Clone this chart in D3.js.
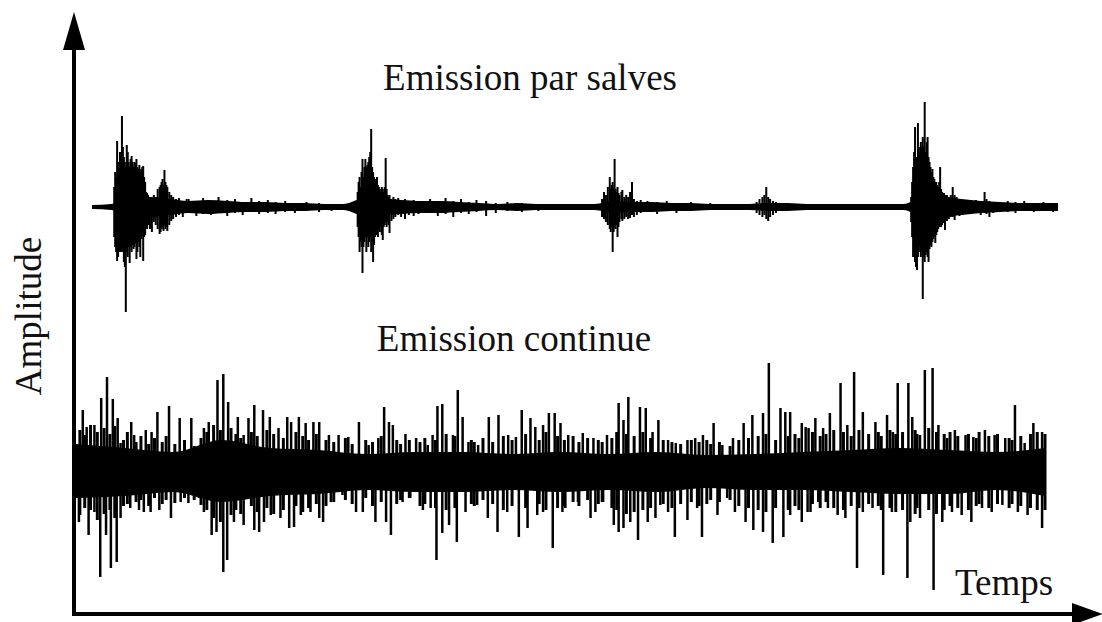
<!DOCTYPE html>
<html>
<head>
<meta charset="utf-8">
<script src="https://cdn.jsdelivr.net/npm/d3@7"></script>
<style>
  body { margin: 0; background: #fff; }
  svg { display: block; }
  text { font-family: "Liberation Serif", "Times New Roman", serif; fill: #111; }
</style>
</head>
<body>
<svg id="chart" width="1102" height="622"></svg>
<script>
// ---- Emission par salves : [temps, amplitude haut, amplitude bas] ----
const salve1 = [[23,20,30],[24,35,40],[25,30,45],[26,66,54],[27,40,50],[28,45,35],[29,55,45],[30,50,40],[31,91,45],[32,60,40],
  [33,50,55],[34,45,60],[35,40,105],[36,62,45],[37,55,50],[38,45,40],[39,40,56],[40,48,40],[41,51,45],[42,45,38],[43,40,42],
  [44,45,40],[45,44,36],[46,48,52],[47,40,45],[48,38,35],[49,42,40],[50,35,50],[51,38,32],[52,40,30],[53,41,54],[54,30,30],
  [55,25,28],[56,15,20],[57,14,22],[58,12,18],[60,10,22],[62,8,25],[64,12,15],[66,10,18],[68,18,22],[70,20,27],[71,22,25],
  [72,25,22],[73,28,20],[74,22,24],[75,37,18],[76,25,22],[77,22,20],[78,20,24],[80,15,18],[82,12,14],[84,10,12],[87,8,10],
  [90,9,8],[94,6,10],[98,8,6]];
const salve2 = [[275,15,20],[276,25,30],[277,30,45],[278,20,35],[279,35,40],[280,48,66],[281,30,40],[282,40,35],[283,48,30],
  [284,40,45],[285,42,30],[286,45,40],[287,50,35],[288,55,30],[289,78,45],[290,40,35],[291,35,55],[292,30,38],[293,28,30],
  [294,25,28],[295,30,25],[296,22,30],[297,20,22],[298,18,25],[299,15,20],[300,20,28],[301,18,33],[302,15,20],[303,20,18],
  [304,49,15],[305,18,20],[306,12,15],[307,10,18],[308,12,26],[310,8,14],[312,10,12],[314,8,10],[317,9,8],[320,7,10],
  [324,8,12],[328,6,8],[333,7,9],[338,5,7]];
const salve3 = [[528,8,10],[530,15,12],[532,12,15],[534,20,18],[536,30,22],[537,18,25],[538,22,20],[539,25,45],[540,20,25],
  [541,48,20],[542,18,22],[543,15,18],[544,20,30],[545,14,20],[546,12,15],[548,15,12],[549,17,14],[551,10,12],[553,12,10],
  [555,10,12],[557,15,11],[559,25,8],[561,8,10],[564,6,8],[568,7,6]];
const salve4 = [[688,5,6],[691,8,8],[694,10,10],[696,12,8],[698,20,12],[700,10,14],[702,8,10],[705,6,8],[708,5,6]];
const salve5 = [[848,10,15],[849,25,30],[850,40,50],[851,55,45],[852,80,55],[853,45,60],[854,50,63],[855,84,50],[856,60,45],
  [857,55,40],[858,65,50],[859,60,45],[860,70,92],[861,60,50],[862,105,55],[863,55,48],[864,65,45],[865,70,50],[866,50,55],
  [867,45,42],[868,40,38],[869,35,40],[870,38,35],[871,30,32],[872,28,30],[873,25,36],[874,25,28],[875,22,25],[876,20,22],
  [877,25,20],[878,40,18],[879,18,20],[880,15,18],[882,14,16],[883,12,23],[885,12,14],[887,10,12],[889,12,10],[891,20,10],
  [893,12,13],[895,10,8],[898,8,9],[901,7,8],[905,6,7],[910,5,6],[915,7,5],[920,6,8],[924,15,6],[926,8,7],[929,6,10],
  [933,5,6],[940,5,5]];
const bruitSalves = [[100,8,6],[108,5,9],[115,9,7],[123,6,8],[131,10,5],[140,7,9],[148,8,6],[156,5,8],[165,9,5],[173,6,7],
  [182,7,6],[190,5,7],[200,6,5],[210,4,6],[222,5,4],[235,4,5],[248,3,4],[350,8,6],[358,6,9],[366,9,7],[374,6,10],[382,8,6],
  [390,5,7],[398,7,5],[408,6,9],[418,4,6],[430,5,4],[445,4,5],[462,3,4],[575,6,5],[585,5,7],[595,6,4],[605,4,6],[620,5,4],
  [640,4,3],[948,6,5],[956,5,6],[965,6,4],[975,4,5],[985,5,4],[995,4,5]];
// epaisseur du fond, un point tous les 20 unites de temps
const fondSalves = [2,3,10,10,8,6,7,6,5,5,4,4,3,3,8,8,7,6,6,5,4,3,4,3,3,3,3,6,5,5,4,4,3,3,3,4,4,3,3,3,3,3,3,10,10,8,6,5,4,4,4];

// ---- Emission continue ----
const hautContinue = [[7,60],[11,43],[19,45],[26,72],[32,93],[38,71],[43,52],[46,27],[57,48],[60,35],[72,40],[78,38],[84,58],
  [96,64],[107,52],[119,52],[126,12],[132,42],[137,48],[146,90],[152,96],[157,68],[167,53],[173,35],[178,52],[184,65],[193,60],
  [200,53],[209,42],[218,53],[222,48],[230,53],[237,47],[245,48],[251,48],[261,35],[271,35],[281,33],[292,48],[302,25],[312,32],
  [318,63],[323,48],[327,45],[340,36],[351,32],[363,25],[368,35],[373,64],[378,66],[389,35],[394,80],[399,53],[405,28],[415,25],
  [426,53],[436,55],[446,35],[454,33],[460,60],[469,52],[474,43],[482,45],[488,57],[494,57],[500,47],[508,35],[523,37],[534,32],
  [548,35],[560,67],[565,50],[570,73],[582,63],[588,62],[595,38],[601,50],[611,30],[619,27],[631,30],[639,32],[647,35],[658,47],
  [667,25],[678,32],[689,47],[698,55],[709,57],[715,107],[727,62],[732,58],[737,58],[749,47],[753,43],[756,42],[763,52],[771,42],
  [778,57],[789,87],[796,45],[803,98],[812,58],[825,48],[837,55],[843,38],[848,87],[859,87],[863,53],[871,35],[876,100],[884,102],
  [890,45],[899,32],[907,40],[918,35],[926,33],[938,40],[948,35],[959,32],[969,65],[979,27],[988,47],[997,38]];
const basContinue = [[3,52],[13,65],[19,42],[25,107],[31,65],[36,98],[42,92],[46,48],[56,38],[65,40],[70,42],[77,42],[86,40],
  [98,48],[108,32],[116,33],[127,28],[132,42],[140,65],[145,62],[152,102],[156,90],[163,52],[173,55],[184,60],[189,62],[194,52],
  [201,45],[211,48],[220,58],[225,57],[232,45],[242,42],[251,48],[255,52],[263,32],[275,25],[289,42],[296,42],[309,52],[320,52],
  [325,65],[337,32],[345,28],[358,40],[366,38],[372,90],[378,63],[385,55],[393,72],[402,42],[414,35],[425,48],[435,62],[445,42],
  [457,67],[466,58],[476,45],[482,42],[492,78],[502,42],[505,38],[518,32],[531,48],[536,42],[544,32],[555,55],[560,62],[565,58],
  [572,52],[580,70],[590,52],[598,48],[603,35],[611,42],[618,67],[631,50],[641,38],[646,67],[662,45],[672,28],[680,42],[691,52],
  [699,60],[709,62],[719,73],[730,67],[737,45],[749,52],[755,42],[758,42],[766,32],[776,38],[786,45],[794,48],[806,98],[812,42],
  [822,38],[833,105],[842,42],[858,108],[861,52],[871,48],[885,120],[894,52],[904,42],[914,45],[924,52],[935,38],[945,42],
  [956,35],[972,42],[982,45],[997,58]];
// pics moyens entre les grands : [temps, haut, bas]
const moyenContinue = [[4,40,45],[9,35,38],[15,45,40],[22,38,50],[29,42,44],[35,36,40],[40,44,48],[49,30,36],[53,38,34],
  [62,28,32],[67,34,30],[75,26,36],[81,32,28],[89,28,34],[93,34,30],[102,26,33],[112,30,28],[122,24,30],[129,32,35],
  [135,38,40],[142,45,48],[149,40,52],[160,42,45],[165,36,40],[170,32,44],[181,38,36],[187,34,42],[197,40,38],[204,36,44],
  [214,32,40],[227,38,36],[234,34,42],[240,30,38],[248,36,34],[258,30,36],[266,28,32],[278,32,30],[285,26,34],[299,30,28],
  [306,28,36],[315,34,32],[331,30,34],[335,26,30],[344,30,28],[355,28,36],[360,32,34],[371,30,38],[382,36,40],[391,34,38],
  [408,30,34],[411,28,36],[420,32,30],[430,28,34],[441,34,40],[450,30,36],[464,36,38],[478,30,34],[485,38,40],[497,34,38],
  [504,30,36],[513,34,32],[519,28,36],[528,32,30],[539,30,34],[543,28,32],[553,32,38],[558,38,40],[568,36,44],[576,34,42],
  [585,38,40],[593,32,38],[606,30,34],[615,28,38],[624,26,34],[635,30,32],[643,28,36],[651,30,34],[655,26,30],[664,28,32],
  [675,24,30],[684,30,36],[694,32,38],[704,34,40],[712,36,42],[722,30,38],[735,34,40],[742,36,36],[746,32,40],[760,38,34],
  [768,34,38],[774,36,32],[782,40,38],[792,38,40],[800,34,36],[808,40,38],[818,36,34],[828,38,36],[831,34,40],[840,40,38],
  [846,36,42],[853,38,40],[866,40,44],[868,36,38],[880,42,40],[888,38,44],[896,36,40],[902,38,36],[910,34,38],[921,36,40],
  [929,32,36],[932,38,34],[942,34,38],[951,36,34],[963,32,38],[966,30,34],[975,34,36],[985,36,38],[992,38,40],[1000,36,40]];
// bande dense centrale, un point tous les 50 unites : [haut, bas]
const noyauContinue = [[26,28],[22,26],[18,22],[30,32],[22,26],[20,24],[16,20],[18,22],[18,22],[16,20],[18,22],[16,20],
  [18,22],[15,18],[16,20],[18,20],[20,22],[22,24],[20,24],[18,20],[22,26]];

const titres = ["Emission par salves", "Emission continue"];
const axeX = "Temps", axeY = "Amplitude";

const svg = d3.select("#chart");
const xS = d3.scaleLinear().domain([0, 1000]).range([92, 1058]);
const yS = d3.scaleLinear().domain([-110, 110]).range([317, 97]);
const xC = d3.scaleLinear().domain([0, 1000]).range([76, 1045]);
const yC = d3.scaleLinear().domain([-120, 120]).range([590, 350]);

// fond du signal en salves
svg.append("path")
  .datum(fondSalves)
  .attr("d", d3.area()
    .x((d, i) => xS(i * 20))
    .y0(d => yS(-d))
    .y1(d => yS(d))
    .curve(d3.curveMonotoneX))
  .attr("fill", "#000");
svg.append("line")
  .attr("x1", xS(0)).attr("x2", xS(1000))
  .attr("y1", yS(0)).attr("y2", yS(0))
  .attr("stroke", "#000").attr("stroke-width", 3.5);

const toutesSalves = [].concat(salve1, salve2, salve3, salve4, salve5, bruitSalves);
svg.append("g").selectAll("line")
  .data(toutesSalves)
  .join("line")
  .attr("x1", d => xS(d[0])).attr("x2", d => xS(d[0]))
  .attr("y1", d => yS(d[1])).attr("y2", d => yS(-d[2]))
  .attr("stroke", "#000").attr("stroke-width", 2);

// signal continu
svg.append("path")
  .datum(noyauContinue)
  .attr("d", d3.area()
    .x((d, i) => xC(i * 50))
    .y0(d => yC(-d[1]))
    .y1(d => yC(d[0]))
    .curve(d3.curveMonotoneX))
  .attr("fill", "#000");
svg.append("line")
  .attr("x1", xC(0)).attr("x2", xC(1000))
  .attr("y1", yC(0)).attr("y2", yC(0))
  .attr("stroke", "#000").attr("stroke-width", 2);
svg.append("g").selectAll("line")
  .data(moyenContinue)
  .join("line")
  .attr("x1", d => xC(d[0])).attr("x2", d => xC(d[0]))
  .attr("y1", d => yC(d[1])).attr("y2", d => yC(-d[2]))
  .attr("stroke", "#000").attr("stroke-width", 3);
svg.append("g").selectAll("line")
  .data(hautContinue)
  .join("line")
  .attr("x1", d => xC(d[0])).attr("x2", d => xC(d[0]))
  .attr("y1", yC(0)).attr("y2", d => yC(d[1]))
  .attr("stroke", "#000").attr("stroke-width", 2.5);
svg.append("g").selectAll("line")
  .data(basContinue)
  .join("line")
  .attr("x1", d => xC(d[0])).attr("x2", d => xC(d[0]))
  .attr("y1", yC(0)).attr("y2", d => yC(-d[1]))
  .attr("stroke", "#000").attr("stroke-width", 2.5);

// axes avec fleches
const ox = 74, oy = 614;
svg.append("line").attr("x1", ox).attr("x2", ox).attr("y1", oy + 2).attr("y2", 45)
  .attr("stroke", "#000").attr("stroke-width", 4);
svg.append("line").attr("x1", ox - 2).attr("x2", 1076).attr("y1", oy).attr("y2", oy)
  .attr("stroke", "#000").attr("stroke-width", 4);
svg.append("path").attr("d", `M${ox},12 L${ox - 11},50 L${ox + 11},50 Z`).attr("fill", "#000");
svg.append("path").attr("d", `M1103,${oy} L1072,${oy - 11} L1072,${oy + 11} Z`).attr("fill", "#000");

// textes
svg.append("text").attr("x", 530).attr("y", 90).attr("text-anchor", "middle")
  .attr("font-size", 37).text(titres[0]);
svg.append("text").attr("x", 514).attr("y", 351).attr("text-anchor", "middle")
  .attr("font-size", 37).text(titres[1]);
svg.append("text").attr("x", 1004).attr("y", 595).attr("text-anchor", "middle")
  .attr("font-size", 37).text(axeX);
svg.append("text").attr("transform", "translate(41,316) rotate(-90)").attr("text-anchor", "middle")
  .attr("font-size", 37).text(axeY);
</script>
</body>
</html>
